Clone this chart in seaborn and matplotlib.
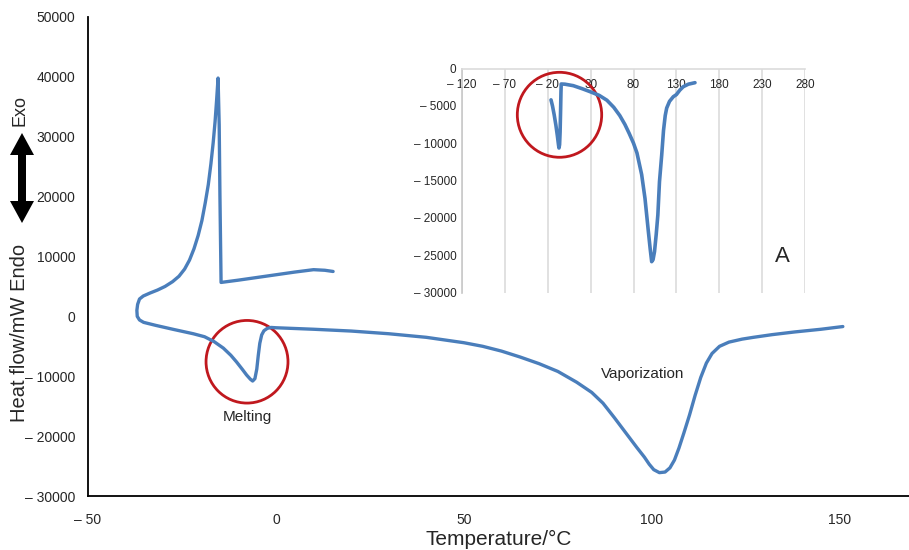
import seaborn as sns
import matplotlib.pyplot as plt
import pandas as pd
from matplotlib.patches import Ellipse, Polygon

# main DSC curve: cooling from 15 C, crystallisation spike, then heating to 150 C
main_temp = [15.2, 13, 10, 5, 0, -5, -10, -14.6, -14.9, -15.1, -15.4,
             -15.8, -16.2, -16.7, -17.3, -18, -18.8, -19.7, -20.7, -21.8, -23,
             -24.3, -25.8, -27.5, -29.5, -31.5, -33.5, -35.3, -36.3, -36.8, -37,
             -36.9, -36.3, -35.2, -32, -27.1, -22, -19, -16.5, -14, -12,
             -10.5, -9, -7.8, -6.8, -6.2, -5.6, -5.1, -4.7, -4.3, -3.8,
             -3.2, -2.3, -1.3, 0, 10, 20, 30, 40, 50, 55,
             60, 65, 70, 75, 80, 84, 87, 90, 93, 96,
             98, 99.3, 100.5, 102, 103.5, 104.8, 106, 107.2, 108.5, 110,
             111.5, 113, 114.5, 116, 118, 120.5, 124, 127, 132, 138,
             145, 150.8]
main_flow = [7500, 7700, 7800, 7400, 6950, 6500, 6050, 5670, 20000, 32000, 39800,
             36000, 32500, 29000, 25500, 22000, 19000, 16000, 13500, 11300, 9400,
             7900, 6700, 5800, 5000, 4400, 3900, 3400, 2900, 2000, 1000,
             0, -600, -1000, -1500, -2200, -2900, -3400, -4200, -5300, -6500,
             -7600, -8800, -9800, -10500, -10800, -10400, -8800, -6500, -4500, -3100,
             -2400, -2000, -1850, -1900, -2150, -2450, -2900, -3500, -4400, -5000,
             -5800, -6800, -7900, -9200, -11000, -12700, -14500, -16900, -19400, -21900,
             -23500, -24700, -25600, -26100, -26000, -25300, -24000, -22000, -19500, -16500,
             -13200, -10200, -7800, -6200, -5000, -4300, -3800, -3500, -3050, -2600,
             -2150, -1700]

# inset: heating scan only
inset_temp = [-16.2, -14.5, -12.5, -10.5, -8.8, -7.5, -6.9, -6.2, -5.6, -5.0,
              -4.6, -4.3, 0, 9.8, 20, 29.3, 40, 49, 57, 64,
              70, 75, 80, 84, 89.5, 93.4, 97.3, 99.5, 101.2, 102.8,
              104.5, 106.5, 108.4, 110.3, 112.9, 115, 117, 118.7, 122, 126.4,
              130, 134, 138, 144, 151.7]
inset_flow = [-4200, -5000, -6200, -7600, -9000, -10200, -10650, -10200, -8500, -5500,
              -3200, -2075, -2100, -2300, -2700, -3100, -3600, -4250, -5200, -6300,
              -7500, -8700, -10000, -11300, -14200, -17400, -21800, -24200, -25870, -25600,
              -24530, -22200, -19620, -15160, -11580, -8300, -6300, -5300, -4400, -3780,
              -3500, -2900, -2440, -2100, -1900]

main_xticks = [-50, 0, 50, 100, 150]
main_yticks = [50000, 40000, 30000, 20000, 10000, 0, -10000, -20000, -30000]
inset_xticks = [-120, -70, -20, 30, 80, 130, 180, 230, 280]
inset_yticks = [0, -5000, -10000, -15000, -20000, -25000, -30000]

BLUE = '#4a7ebb'
RED = '#c0181e'
W, H = 909, 550


def lab(v):
    return f'\u2013 {abs(v)}' if v < 0 else f'{v}'


sns.set_style('white')
plt.rcParams['font.family'] = ['Liberation Sans', 'DejaVu Sans']

fig = plt.figure(figsize=(W / 100, H / 100), dpi=100)
ax = fig.add_axes([88 / W, 1 - 496 / H, 1 - 88 / W, (496 - 17) / H])

main = pd.DataFrame({'T': main_temp, 'q': main_flow})
sns.lineplot(data=main, x='T', y='q', sort=False, estimator=None,
             color=BLUE, lw=2.4, ax=ax)
ax.set_xlim(-50, 168.4)
ax.set_ylim(-30000, 50000)
ax.set_xticks(main_xticks)
ax.set_xticklabels([lab(v) for v in main_xticks])
ax.set_yticks(main_yticks)
ax.set_yticklabels([lab(v) for v in main_yticks])
ax.tick_params(axis='x', direction='in', length=5, width=1.2, pad=12, labelsize=10)
ax.tick_params(axis='y', direction='in', length=5, width=1.2, pad=9, labelsize=10)
for s in ['top', 'right']:
    ax.spines[s].set_visible(False)
for s in ['left', 'bottom']:
    ax.spines[s].set_color('black')
    ax.spines[s].set_linewidth(1.3)
ax.set_ylabel('')
ax.set_xlabel('Temperature/\u00b0C', fontsize=15, labelpad=2)

ax.add_patch(Ellipse((-7.7, -7580), 21.8, 13800, fill=False, ec=RED, lw=2))
ax.text(-7.7, -16800, 'Melting', ha='center', va='center', fontsize=11)
ax.text(97.6, -9670, 'Vaporization', ha='center', va='center', fontsize=11)

# y label with Exo / Endo double arrow
fig.text(20 / W, 1 - 333 / H, 'Heat flow/mW Endo', rotation=90,
         ha='center', va='center', fontsize=14.5)
fig.text(20 / W, 1 - 111 / H, 'Exo', rotation=90,
         ha='center', va='center', fontsize=13)
cx, top, bot, hw, sw, hl = 22, 133, 223, 12, 4, 22
pts = [(cx, top), (cx + hw, top + hl), (cx + sw, top + hl), (cx + sw, bot - hl),
       (cx + hw, bot - hl), (cx, bot), (cx - hw, bot - hl), (cx - sw, bot - hl),
       (cx - sw, top + hl), (cx - hw, top + hl)]
fig.patches.append(Polygon([(x / W, 1 - y / H) for x, y in pts], closed=True,
                           transform=fig.transFigure, fc='black', ec='none'))

# inset
ins = fig.add_axes([462 / W, 1 - 292.5 / H, (805 - 462) / W, (292.5 - 68.5) / H])
inset = pd.DataFrame({'T': inset_temp, 'q': inset_flow})
sns.lineplot(data=inset, x='T', y='q', sort=False, estimator=None,
             color=BLUE, lw=2.6, ax=ins)
ins.set_xlim(-120, 280)
ins.set_ylim(-30000, 0)
ins.set_xticks(inset_xticks)
ins.set_xticklabels([lab(v) for v in inset_xticks])
ins.set_yticks(inset_yticks)
ins.set_yticklabels([lab(v) for v in inset_yticks])
ins.grid(axis='x', color='#dcdcdc', lw=1.2)
ins.grid(axis='y', visible=False)
ins.tick_params(axis='x', top=False, bottom=False, labeltop=True, labelbottom=False,
                length=0, pad=-16, labelsize=8.5)
ins.tick_params(axis='y', length=0, pad=4, labelsize=8.5)
ins.spines['right'].set_visible(False)
ins.spines['bottom'].set_visible(False)
ins.spines['top'].set_color('#dcdcdc')
ins.spines['left'].set_color('#c8c8c8')
ins.spines['top'].set_linewidth(1.2)
ins.spines['left'].set_linewidth(1.2)
ins.set_xlabel('')
ins.set_ylabel('')
ins.patch.set_alpha(0)
ins.add_patch(Ellipse((-6.3, -6200), 98.4, 11380, fill=False, ec=RED, lw=2))
ins.text(254, -25240, 'A', ha='center', va='center', fontsize=16)

fig.savefig('out.png', dpi=100)
